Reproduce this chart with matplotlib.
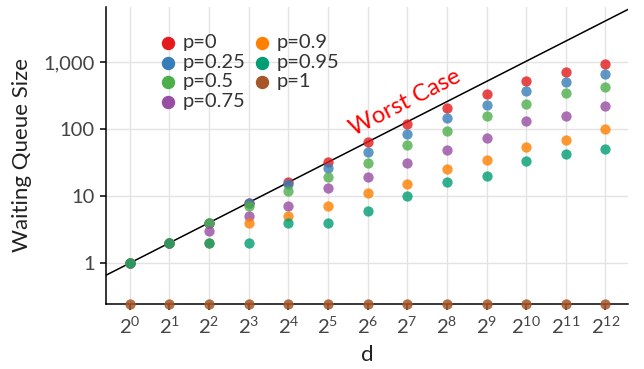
import numpy as np
import matplotlib
matplotlib.use("Agg")
import matplotlib.pyplot as plt
from matplotlib.ticker import FixedLocator, FixedFormatter, NullLocator

plt.rcParams['font.family'] = ['Lato', 'DejaVu Sans']
plt.rcParams['mathtext.default'] = 'regular'

# data: waiting queue size per d = 2^k, one list per p
powers = list(range(13))
d_values = [2 ** k for k in powers]

series = {
    "p=0":    [1, 2, 4, 8, 16, 32, 64, 120, 204, 333, 520, 717, 933],
    "p=0.25": [1, 2, 4, 8, 15, 26, 46, 84, 144, 230, 372, 508, 655],
    "p=0.5":  [1, 2, 4, 7, 12, 19, 31, 57, 93, 156, 239, 345, 428],
    "p=0.75": [1, 2, 3, 5, 7, 13, 19, 31, 49, 74, 133, 158, 223],
    "p=0.9":  [1, 2, 2, 4, 5, 7, 11, 15, 25, 34, 54, 69, 100],
    "p=0.95": [1, 2, 2, 2, 4, 4, 6, 10, 16, 20, 33, 43, 51],
    "p=1":    [0, 0, 0, 0, 0, 0, 0, 0, 0, 0, 0, 0, 0],
}
colors = ["#E41A1C", "#377EB8", "#4DAF4A", "#984EA3", "#FF7F00", "#009E73", "#A65628"]

y_ticks = [1, 10, 100, 1000]
y_tick_labels = ["1", "10", "100", "1,000"]

fig = plt.figure(figsize=(6.44, 3.69), dpi=100)
ax = fig.add_axes([106 / 644, 65 / 369, 522 / 644, 297 / 369])

ax.set_xscale('log', base=2)
ax.set_yscale('log')
ax.set_xlim(2 ** -0.6, 2 ** 12.57)
ax.set_ylim(10 ** -0.61, 10 ** 3.82)

# worst case: queue size equals d
xs = np.array([2 ** -1.0, 2 ** 13.0])
ax.plot(xs, xs, color="black", lw=1.1, zorder=2)
ax.text(2 ** 6.94, 250, "Worst Case", color="red", fontsize=17, rotation=27,
        ha="center", va="center")

for (name, vals), c in zip(series.items(), colors):
    vals = np.array(vals, dtype=float)
    if np.all(vals == 0):
        # zero queue -> sits on the bottom edge of the log axis
        ax.scatter(d_values, vals, s=55, color=c, alpha=0.85, lw=0,
                   transform=ax.get_xaxis_transform(), clip_on=False,
                   label=name, zorder=3)
    else:
        ax.scatter(d_values, vals, s=55, color=c, alpha=0.8, lw=0,
                   label=name, zorder=3)

ax.xaxis.set_major_locator(FixedLocator(d_values))
ax.xaxis.set_major_formatter(FixedFormatter([r"$2^{%d}$" % k for k in powers]))
ax.xaxis.set_minor_locator(NullLocator())
ax.yaxis.set_major_locator(FixedLocator(y_ticks))
ax.yaxis.set_major_formatter(FixedFormatter(y_tick_labels))
ax.yaxis.set_minor_locator(NullLocator())

ax.grid(True, color="#E3E3E3", lw=1)
ax.set_axisbelow(True)
for s in ["top", "right"]:
    ax.spines[s].set_visible(False)
for s in ["left", "bottom"]:
    ax.spines[s].set_linewidth(1.1)
ax.tick_params(axis="both", length=4, width=1.1, color="black",
               labelsize=14.5, labelcolor="#444444", pad=4)

ax.set_xlabel("d", fontsize=16, color="#222222", labelpad=6)
ax.set_ylabel("Waiting Queue Size", fontsize=16, color="#222222", labelpad=8)

leg = ax.legend(loc="upper left", bbox_to_anchor=(0.088, 0.935), ncol=2, frameon=False,
                fontsize=14.5, handlelength=0.8, handletextpad=0.3, columnspacing=0.45,
                labelspacing=0.12, markerscale=1.3, borderaxespad=0)
for h in leg.legend_handles:
    h.set_alpha(1)
for t in leg.get_texts():
    t.set_color("#333333")

fig.savefig("out.png", dpi=100)
